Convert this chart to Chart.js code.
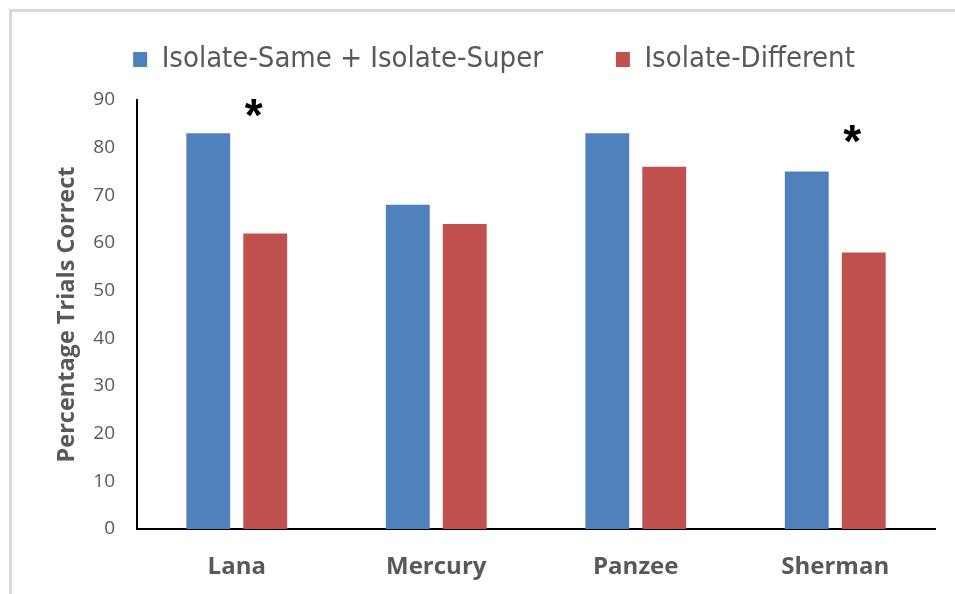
<!DOCTYPE html>
<html>
<head>
<meta charset="utf-8">
<script src="https://cdn.jsdelivr.net/npm/chart.js@4"></script>
<style>
  html, body { margin: 0; padding: 0; background: #fff; }
  #frame { position: absolute; left: 9px; top: 9px; width: 960px; height: 600px;
           border-left: 3px solid #d9d9d9; border-top: 3px solid #d9d9d9; }
  #wrap { position: absolute; left: 0; top: 0; width: 955px; height: 594px; }
</style>
</head>
<body>
<div id="frame"></div>
<div id="wrap"><canvas id="myChart"></canvas></div>
<script>
const subjects = ['Lana', 'Mercury', 'Panzee', 'Sherman'];
const sameSuper = [83, 68, 83, 75];
const different = [62, 64, 76, 58];
const yTicks = [0, 10, 20, 30, 40, 50, 60, 70, 80, 90];
// asterisks marking significant differences
const starSubjects = ['Lana', 'Sherman'];
const starValues = [88, 82.5];

const grey = '#595959';

const stars = {
  id: 'stars',
  afterDatasetsDraw(chart) {
    const { ctx, scales: { x, y } } = chart;
    const step = x.getPixelForValue(1) - x.getPixelForValue(0);
    ctx.save();
    ctx.fillStyle = '#000';
    ctx.font = 'bold 46px "Liberation Sans", Arial, sans-serif';
    ctx.textAlign = 'center';
    ctx.textBaseline = 'middle';
    starSubjects.forEach((s, i) => {
      const px = x.getPixelForValue(subjects.indexOf(s)) + step * 0.085;
      ctx.fillText('*', px, y.getPixelForValue(starValues[i]) + 9);
    });
    ctx.restore();
  }
};

// wide gap between legend items without a tall legend box
const legendHeight = {
  id: 'legendHeight',
  afterInit(chart) {
    const lg = chart.legend;
    const fit = lg.fit;
    lg.fit = function () { fit.call(this); this.height = 128; };
  }
};

new Chart(document.getElementById('myChart'), {
  type: 'bar',
  data: {
    labels: subjects,
    datasets: [{
      label: 'Isolate-Same + Isolate-Super',
      data: sameSuper,
      backgroundColor: '#4f81bd',
      categoryPercentage: 0.571,
      barPercentage: 0.77
    }, {
      label: 'Isolate-Different',
      data: different,
      backgroundColor: '#c0504d',
      categoryPercentage: 0.571,
      barPercentage: 0.77
    }]
  },
  plugins: [stars, legendHeight],
  options: {
    responsive: true,
    maintainAspectRatio: false,
    animation: false,
    layout: { padding: { left: 53, right: 20, top: -28, bottom: 12 } },
    plugins: {
      tooltip: { enabled: false },
      legend: {
        position: 'top',
        labels: {
          color: grey,
          boxWidth: 14,
          boxHeight: 15,
          padding: 73,
          font: { family: '"Liberation Sans Narrow", "DejaVu Sans Condensed", sans-serif', size: 29 }
        }
      }
    },
    scales: {
      x: {
        grid: { display: false, drawTicks: false },
        border: { display: true, color: '#000', width: 2 },
        afterFit(scale) { scale.height = 53; },
        ticks: {
          color: grey,
          padding: 24,
          font: { family: '"Open Sans", sans-serif', size: 24, weight: 'bold' }
        }
      },
      y: {
        min: 0,
        max: 90,
        grid: { display: false, drawTicks: false },
        border: { display: true, color: '#000', width: 2 },
        afterFit(scale) { scale.width = 84; },
        afterBuildTicks(scale) { scale.ticks = yTicks.map(v => ({ value: v })); },
        ticks: {
          color: grey,
          padding: 22,
          font: { family: '"Open Sans", sans-serif', size: 19 }
        },
        title: {
          display: true,
          text: 'Percentage Trials Correct',
          color: grey,
          padding: { top: 0, bottom: 0 },
          font: { family: '"Open Sans", sans-serif', size: 23.5, weight: 'bold' }
        }
      }
    }
  }
});
</script>
</body>
</html>
